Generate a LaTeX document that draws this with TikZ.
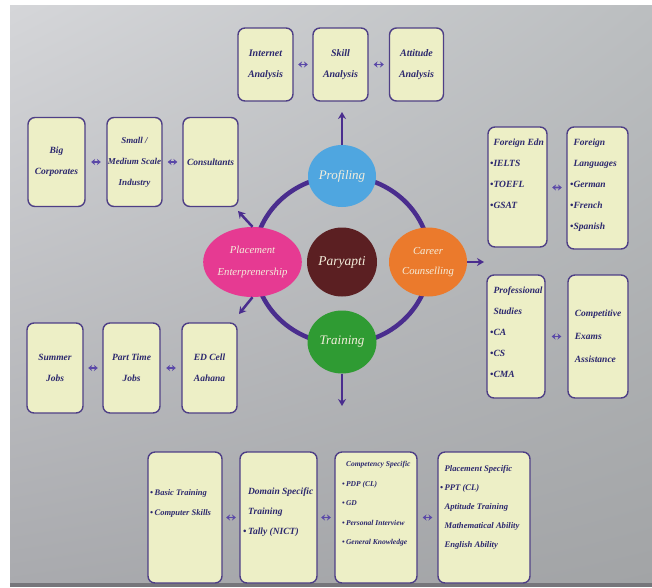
\documentclass[tikz,border=0pt]{standalone}
\usepackage{fontspec}
\setmainfont{Liberation Serif}
\usetikzlibrary{shapes.geometric,arrows.meta,shadings}
\definecolor{boxfill}{HTML}{EDEFC6}
\definecolor{boxline}{HTML}{4E3F86}
\definecolor{boxtext}{HTML}{2C286E}
\definecolor{ringc}{HTML}{4A2D8E}
\definecolor{lnkc}{HTML}{5A48A8}
\definecolor{cblue}{HTML}{4FA6E0}
\definecolor{cmaroon}{HTML}{5B1F22}
\definecolor{corange}{HTML}{EB7A2C}
\definecolor{cpink}{HTML}{E63A92}
\definecolor{cgreen}{HTML}{2F9B33}
\definecolor{ctext}{HTML}{F4EEDC}
\definecolor{bgA}{HTML}{D5D6D9}
\definecolor{bgB}{HTML}{BBBEC0}
\definecolor{bgC}{HTML}{A9AAAE}
\definecolor{bgD}{HTML}{A2A4A6}
\definecolor{bandc}{HTML}{76767B}
\tikzset{
  box/.style={draw=boxline, fill=boxfill, line width=1.4pt, rounded corners=7pt, inner sep=0pt},
  btxt/.style 2 args={text=boxtext, align=left, inner sep=0pt, font=\fontsize{#1}{#2}\selectfont\bfseries\itshape},
  ctxt/.style 2 args={text=boxtext, align=center, font=\fontsize{#1}{#2}\selectfont\bfseries\itshape},
  lnk/.style={{Stealth[length=3.8pt,width=6pt]}-{Stealth[length=3.8pt,width=6pt]}, draw=lnkc, line width=1.8pt, shorten >=4.5pt, shorten <=4.5pt},
  gap/.style={shorten >=#1, shorten <=#1},
  circ/.style={ellipse, inner sep=0pt, text=ctext},
  emit/.style={-{Stealth[length=7pt,width=8pt]}, draw=ringc, line width=2.5pt},
  ring/.style={draw=ringc, line width=4.5pt}
}
\begin{document}
\begin{tikzpicture}[x=1pt,y=-1pt]
\useasboundingbox (0,0) rectangle (652,587);
\fill[white] (0,0) rectangle (652,587);
\shade[upper left=bgA, upper right=bgB, lower left=bgC, lower right=bgD] (10,5) rectangle (652,583);
\fill[bandc] (10,583) rectangle (652,587);

% ring
\coordinate (ctr) at (342,260);
\draw[ring] (ctr) ellipse [x radius=88pt, y radius=84pt];

% circles
\node[circ, fill=cblue, minimum width=68pt, minimum height=62pt, font=\fontsize{13}{15}\selectfont\itshape] (pr) at (342,176) {Profiling};
\node[circ, fill=cmaroon, minimum width=70pt, minimum height=69pt, font=\fontsize{13.5}{15}\selectfont\itshape] (py) at (342,262) {Paryapti};
\node[circ, fill=corange, minimum width=78pt, minimum height=69pt, align=center, font=\fontsize{10.7}{20}\selectfont\itshape] (cc) at (428,262) {Career\\Counselling};
\node[circ, fill=cpink, minimum width=79pt, minimum height=70pt, align=center, font=\fontsize{10.7}{21.5}\selectfont\itshape] (pe) at (252.5,262) {Placement\\Enterprenership};
\node[circ, fill=cgreen, minimum width=69pt, minimum height=63pt, font=\fontsize{13}{15}\selectfont\itshape] (tr) at (342,342) {Training};

% arrows out of circles
\coordinate (prt) at (342,112);
\coordinate (cct) at (484,262);
\coordinate (trt) at (342,406);
\coordinate (peu) at (238,211);
\coordinate (ped) at (239,314);
\draw[emit] (pr) -- (prt);
\draw[emit] (cc) -- (cct);
\draw[emit] (tr) -- (trt);
\draw[emit] (pe.north) -- (peu);
\draw[emit] (pe.south) -- (ped);

% top row
\node[box, minimum width=55pt, minimum height=73pt, ctxt={10}{21}] (ia) at (265.5,64.5) {Internet\\Analysis};
\node[box, minimum width=55pt, minimum height=73pt, ctxt={10}{21}] (sa) at (340.5,64.5) {Skill\\Analysis};
\node[box, minimum width=54pt, minimum height=73pt, ctxt={10}{21}] (aa) at (416.5,64.5) {Attitude\\Analysis};
\draw[lnk] (ia) -- (sa);
\draw[lnk, gap=5pt] (sa) -- (aa);

% left top row
\node[box, minimum width=57pt, minimum height=89pt, ctxt={9.5}{21}] (bc) at (56.5,162) {Big\\Corporates};
\node[box, minimum width=55pt, minimum height=89pt, ctxt={9}{21}] (sm) at (134.5,162) {Small /\\Medium Scale\\Industry};
\node[box, minimum width=55pt, minimum height=89pt, ctxt={9.5}{21}] (cs) at (210.5,162) {Consultants};
\draw[lnk, gap=5.5pt] (bc) -- (sm);
\draw[lnk, gap=5pt] (sm) -- (cs);

% left bottom row
\node[box, minimum width=56pt, minimum height=90pt, ctxt={9.5}{21}] (sj) at (55,368) {Summer\\Jobs};
\node[box, minimum width=57pt, minimum height=90pt, ctxt={9.5}{21}] (pt) at (131.5,368) {Part Time\\Jobs};
\node[box, minimum width=55pt, minimum height=90pt, ctxt={9.5}{21}] (ed) at (209.5,368) {ED Cell\\Aahana};
\draw[lnk] (sj) -- (pt);
\draw[lnk, gap=5.5pt] (pt) -- (ed);

% right boxes
\node[box, minimum width=59pt, minimum height=120pt] (fe) at (517.5,187) {};
\node[box, minimum width=61pt, minimum height=122pt] (fl) at (597.5,188) {};
\node[box, minimum width=58pt, minimum height=123pt] (ps) at (516,336.5) {};
\node[box, minimum width=60pt, minimum height=123pt, btxt={9.5}{23}] (ce) at (598,336.5) {Competitive\\Exams\\Assistance};
\node[btxt={9.5}{21}, anchor=west] (fe-t) at (490,174) {\phantom{•}Foreign Edn\\•IELTS\\•TOEFL\\•GSAT};
\node[btxt={9.5}{21}, anchor=west] (fl-t) at (570,185) {\phantom{•}Foreign\\\phantom{•}Languages\\•German\\•French\\•Spanish};
\node[btxt={9.5}{21}, anchor=west] (ps-t) at (490,332) {\phantom{•}Professional\\\phantom{•}Studies\\•CA\\•CS\\•CMA};
\draw[lnk] (fe) -- (fl);
\draw[lnk, gap=6pt] (ps) -- (ce);

% bottom row
\node[box, minimum width=74pt, minimum height=131pt] (b1) at (185,517.5) {};
\node[box, minimum width=77pt, minimum height=131pt] (b2) at (278.5,517.5) {};
\node[box, minimum width=82pt, minimum height=131pt] (b3) at (376,517.5) {};
\node[box, minimum width=92pt, minimum height=131pt] (b4) at (484,517.5) {};
\node[btxt={8.5}{20}, anchor=west] (b1-t) at (150,503) {•\,Basic Training\\•\,Computer Skills};
\node[btxt={9.5}{20}, anchor=west] (b2-t) at (243,512) {\phantom{•\,}Domain Specific\\\phantom{•\,}Training\\•\,Tally (NICT)};
\node[btxt={7.5}{19.5}, anchor=west] (b3-t) at (342,504) {\phantom{•\,}Competency Specific\\•\,PDP (CL)\\•\,GD\\•\,Personal Interview\\•\,General Knowledge};
\node[btxt={8.6}{19}, anchor=west] (b4-t) at (440,507) {\phantom{•\,}Placement Specific\\•\,PPT (CL)\\\phantom{•\,}Aptitude Training\\\phantom{•\,}Mathematical Ability\\\phantom{•\,}English Ability};
\draw[lnk, gap=3.5pt] (b1) -- (b2);
\draw[lnk, gap=3.5pt] (b2) -- (b3);
\draw[lnk, gap=5pt] (b3) -- (b4);
\end{tikzpicture}
\end{document}
